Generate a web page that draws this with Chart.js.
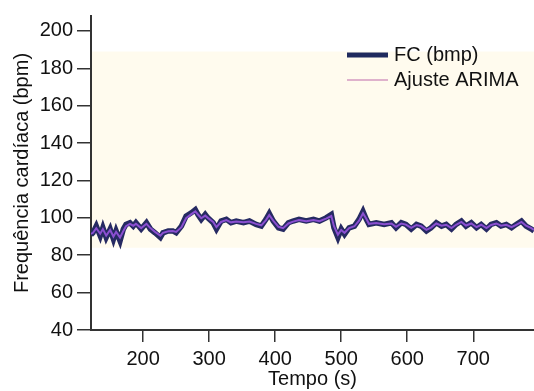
<!DOCTYPE html>
<html>
<head>
<meta charset="utf-8">
<script src="https://cdn.jsdelivr.net/npm/chart.js@4"></script>
<style>
  html, body { margin: 0; padding: 0; background: #fff; }
  #wrap { width: 534px; height: 391px; }
</style>
</head>
<body>
<div id="wrap"><canvas id="chart" width="534" height="391"></canvas></div>
<script>
// time (s)
const times = [121, 124, 129, 135, 139, 144, 150, 155, 159, 165, 170, 174, 180, 185, 189, 197, 205, 211, 218, 226,
  230, 238, 245, 250, 258, 265, 273, 279, 283, 288, 294, 298, 306, 311, 318, 326, 333, 341, 352, 361,
  371, 379, 386, 391, 397, 405, 412, 420, 427, 436, 447, 458, 467, 477, 485, 489, 495, 500, 505, 512,
  520, 527, 533, 538, 542, 553, 565, 576, 583, 591, 598, 606, 614, 621, 629, 636, 644, 652, 659, 667,
  674, 682, 689, 697, 705, 712, 720, 727, 735, 742, 750, 758, 765, 773, 780, 788, 792];

// heart rate (bpm)
const fcValues = [91, 92, 95.6, 90.3, 94.7, 89.5, 94, 88.6, 93, 87.7, 94, 96.5, 97.4, 95.6, 97.4, 94, 97.4, 94, 92, 89.5,
  92, 93, 93, 92, 95.6, 100.9, 102.7, 104.4, 101.8, 99.2, 101.8, 100, 97.4, 94, 98.3, 99.2, 97.4, 98.3, 97.4, 98.3,
  96.5, 95.6, 99.2, 102.3, 98.3, 94.7, 94, 97.4, 98.3, 99.2, 98.3, 99.2, 98.3, 100, 101.8, 94.7, 89.5, 94, 91.2, 94.7,
  95.6, 99.2, 103.5, 99.2, 96.5, 97.4, 96.5, 97.4, 94.7, 97.4, 96.5, 94, 96.5, 95.6, 93, 94.7, 97.4, 95.6, 96.5, 94,
  96.5, 98.3, 95.6, 97.4, 94.7, 96.5, 94, 96.5, 97.4, 95.6, 96.5, 94.7, 96.5, 98.3, 95.6, 94, 93];

// ARIMA fit
const arimaValues = [91.5, 92, 94.5, 91.5, 94, 90.5, 93.5, 90, 92.5, 89.5, 93, 95.5, 96.8, 95.8, 96.8, 94.5, 96.8, 94.5, 92.5, 90.5,
  92, 92.8, 93, 92.5, 95, 99.8, 102, 103.5, 101.8, 99.8, 101.2, 100, 97.8, 95, 97.8, 98.8, 97.6, 98, 97.6, 98,
  96.8, 96, 98.8, 101.5, 98.5, 95.2, 94.5, 97, 98, 98.8, 98.2, 98.8, 98.2, 99.6, 101, 95.5, 91, 93.5, 92, 94.5,
  95.5, 98.5, 102.5, 99.5, 96.8, 97.2, 96.6, 97, 95.2, 97, 96.4, 94.6, 96.2, 95.6, 93.6, 94.8, 97, 95.8, 96.3, 94.5,
  96.3, 97.8, 95.9, 97, 95, 96.3, 94.5, 96.2, 97, 95.8, 96.3, 95, 96.3, 97.8, 95.8, 94.5, 93.5];

const xTicks = [200, 300, 400, 500, 600, 700];
const yTicks = [40, 60, 80, 100, 120, 140, 160, 180, 200];
const bandRange = [84, 189]; // shaded region (bpm)

const FONT = '"Liberation Sans", Arial, Helvetica, sans-serif';
const AXIS_COLOR = '#333333';

// pale band behind the series (drawn before the axes)
const bandPlugin = {
  id: 'band',
  beforeDraw(chart) {
    const { ctx, chartArea, scales } = chart;
    const top = scales.y.getPixelForValue(bandRange[1]);
    const bottom = scales.y.getPixelForValue(bandRange[0]);
    ctx.save();
    ctx.fillStyle = '#fffbee';
    ctx.fillRect(chartArea.left, top, chartArea.right - chartArea.left, bottom - top);
    ctx.restore();
  }
};

// legend drawn inside the plot, top right
const innerLegend = {
  id: 'innerLegend',
  afterDraw(chart) {
    const { ctx } = chart;
    const x0 = 347, x1 = 388, tx = 394;
    const rows = [55, 80];
    ctx.save();
    ctx.font = '20px ' + FONT;
    ctx.textBaseline = 'middle';
    chart.data.datasets.forEach((ds, i) => {
      const y = rows[i];
      ctx.strokeStyle = ds.legendColor;
      ctx.lineWidth = ds.legendWidth;
      ctx.beginPath();
      ctx.moveTo(x0, y);
      ctx.lineTo(x1, y);
      ctx.stroke();
      ctx.fillStyle = '#111';
      ctx.fillText(ds.label, tx, y);
    });
    ctx.restore();
  }
};

const ctx = document.getElementById('chart').getContext('2d');
new Chart(ctx, {
  type: 'line',
  data: {
    datasets: [
      {
        label: 'FC (bmp)',
        data: times.map((t, i) => ({ x: t, y: fcValues[i] })),
        borderColor: '#262a62',
        borderWidth: 5.5,
        pointRadius: 0,
        tension: 0,
        order: 2,
        legendColor: '#1f2a5e',
        legendWidth: 5
      },
      {
        label: 'Ajuste ARIMA',
        data: times.map((t, i) => ({ x: t, y: arimaValues[i] })),
        borderColor: '#8a4fd0',
        borderWidth: 2,
        pointRadius: 0,
        tension: 0,
        order: 1,
        legendColor: '#d49ac0',
        legendWidth: 1.5
      }
    ]
  },
  options: {
    responsive: false,
    animation: false,
    layout: { padding: { top: 12, right: 0, left: 0, bottom: 0 } },
    plugins: {
      legend: { display: false },
      tooltip: { enabled: false }
    },
    scales: {
      x: {
        type: 'linear',
        min: 121,
        max: 792,
        afterBuildTicks: (scale) => { scale.ticks = xTicks.map(v => ({ value: v })); },
        afterFit: (scale) => { scale.height = 61; },
        grid: { display: true, drawOnChartArea: false, tickLength: 12, color: AXIS_COLOR, lineWidth: 1.5 },
        border: { display: true, color: AXIS_COLOR, width: 2 },
        ticks: { color: '#111', font: { family: FONT, size: 20 }, padding: 5, maxRotation: 0 },
        title: { display: true, text: 'Tempo (s)', color: '#111', font: { family: FONT, size: 20 }, padding: { top: 0, bottom: 0 } }
      },
      y: {
        min: 40,
        max: 208,
        afterBuildTicks: (scale) => { scale.ticks = yTicks.map(v => ({ value: v })); },
        afterFit: (scale) => { scale.width = 91; },
        grid: { display: true, drawOnChartArea: false, tickLength: 14, color: AXIS_COLOR, lineWidth: 1.5 },
        border: { display: true, color: AXIS_COLOR, width: 2 },
        ticks: { color: '#111', font: { family: FONT, size: 20 }, padding: 4 },
        title: { display: true, text: 'Frequência cardíaca (bpm)', color: '#111', font: { family: FONT, size: 20 }, padding: { top: 10, bottom: 0 } }
      }
    }
  },
  plugins: [bandPlugin, innerLegend]
});
</script>
</body>
</html>
